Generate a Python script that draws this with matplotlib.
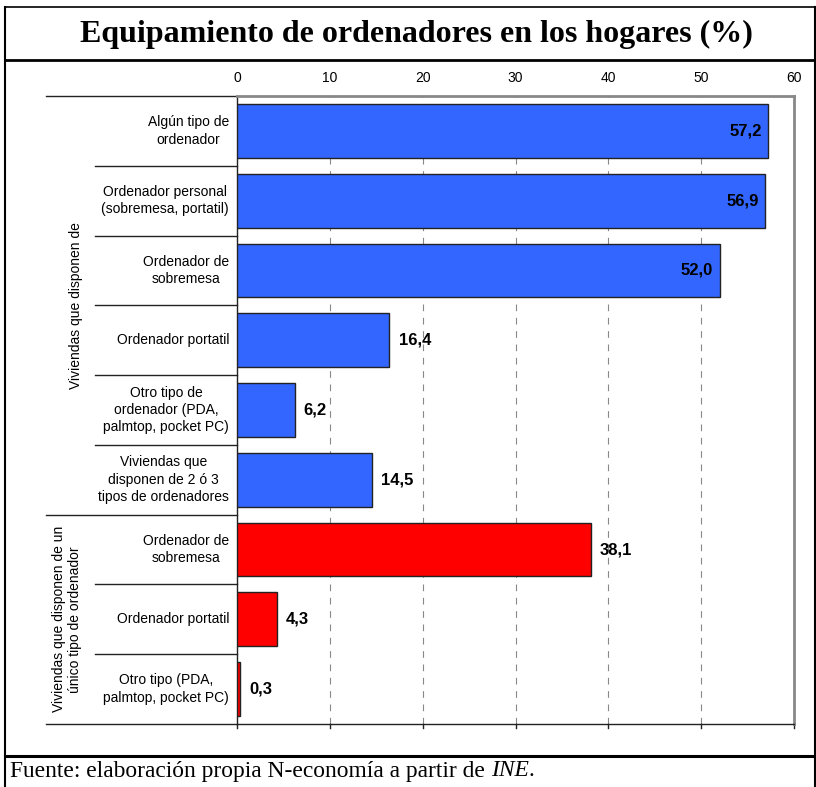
import matplotlib
matplotlib.use("Agg")
import matplotlib.pyplot as plt
from matplotlib.lines import Line2D
import matplotlib.transforms as mtransforms

# data
categorias = [
    "Algún tipo de\nordenador",
    "Ordenador personal\n(sobremesa, portatil)",
    "Ordenador de\nsobremesa",
    "Ordenador portatil",
    "Otro tipo de\nordenador (PDA,\npalmtop, pocket PC)",
    "Viviendas que\ndisponen de 2 ó 3\ntipos de ordenadores",
    "Ordenador de\nsobremesa",
    "Ordenador portatil",
    "Otro tipo (PDA,\npalmtop, pocket PC)",
]
valores = [57.2, 56.9, 52.0, 16.4, 6.2, 14.5, 38.1, 4.3, 0.3]
grupo = [0, 0, 0, 0, 0, 0, 1, 1, 1]
grupos = ["Viviendas que disponen de",
          "Viviendas que disponen de un\núnico tipo de ordenador"]
colores = ["#3366FF", "#FF0000"]
xticks = [0, 10, 20, 30, 40, 50, 60]

W, H = 816, 787
fig = plt.figure(figsize=(W / 100, H / 100), dpi=100)

# plot area in pixels
px_l, px_r, px_t, px_b = 237, 794, 96, 724
ax = fig.add_axes([px_l / W, 1 - px_b / H, (px_r - px_l) / W, (px_b - px_t) / H])

ypos = list(range(len(valores)))
bar_cols = [colores[g] for g in grupo]
ax.barh(ypos, valores, height=0.77, color=bar_cols, edgecolor="#222222", linewidth=1, zorder=3)

ax.set_xlim(0, 60)
ax.set_ylim(len(valores) - 0.5, -0.5)
ax.xaxis.tick_top()
ax.set_xticks(xticks)
ax.set_xticklabels([str(t) for t in xticks], fontsize=10, family="Liberation Sans")
ax.tick_params(axis="x", length=0, pad=8)
ax.set_yticks([])
for x in xticks[1:-1]:
    ax.axvline(x, color="#888888", linestyle=(0, (6, 6)), linewidth=0.8, zorder=1)

for s in ["top", "right"]:
    ax.spines[s].set_color("#888888")
    ax.spines[s].set_linewidth(2)
for s in ["left", "bottom"]:
    ax.spines[s].set_color("#222222")
    ax.spines[s].set_linewidth(1)

# bottom tick marks
for x in xticks:
    ax.plot([x, x], [len(valores) - 0.5, len(valores) - 0.5 + 0.06], color="#222222",
            linewidth=1, clip_on=False)

# value labels
for y, v in zip(ypos, valores):
    txt = f"{v:.1f}".replace(".", ",")
    if v > 45:
        ax.text(v - 0.7, y, txt, ha="right", va="center", fontsize=12,
                fontweight="bold", family="Liberation Sans", zorder=4)
    else:
        ax.text(v + 1.0, y, txt, ha="left", va="center", fontsize=12,
                fontweight="bold", family="Liberation Sans", zorder=4)

# category labels and separators
trans = mtransforms.blended_transform_factory(ax.transAxes, ax.transData)
x_in = (95 - px_l) / (px_r - px_l)
x_out = (46 - px_l) / (px_r - px_l)
x_lab = (229 - px_l) / (px_r - px_l)
for y, lab in zip(ypos, categorias):
    ax.text(x_lab, y, lab, transform=trans, ha="right", va="center",
            multialignment="center", fontsize=10, family="Liberation Sans",
            linespacing=1.3)

for i in range(len(valores) + 1):
    yb = i - 0.5
    if i == 0 or i == len(valores) or grupo[i - 1] != grupo[min(i, len(valores) - 1)]:
        x0 = x_out
    else:
        x0 = x_in
    ax.add_line(Line2D([x0, 0], [yb, yb], transform=trans, color="#222222",
                       linewidth=1, clip_on=False))

# group labels
g0 = [i for i, g in enumerate(grupo) if g == 0]
g1 = [i for i, g in enumerate(grupo) if g == 1]
ax.text((76 - px_l) / (px_r - px_l), (g0[0] + g0[-1]) / 2, grupos[0], transform=trans,
        rotation=90, ha="center", va="center", fontsize=10, family="Liberation Sans")
ax.text((67 - px_l) / (px_r - px_l), (g1[0] + g1[-1]) / 2, grupos[1], transform=trans,
        rotation=90, ha="center", va="center", fontsize=10, family="Liberation Sans",
        multialignment="center", linespacing=1.1)

# frame and title box
def hline(y, lw):
    fig.add_artist(Line2D([5 / W, 1], [1 - y / H, 1 - y / H], color="black", linewidth=lw))

hline(7, 1.2)
hline(60, 2)
hline(756, 2.2)
fig.add_artist(Line2D([5 / W, 5 / W], [1 - 7 / H, 0], color="black", linewidth=1.5))
fig.add_artist(Line2D([815 / W, 815 / W], [1 - 7 / H, 0], color="black", linewidth=1.5))

fig.text(0.5 * (5 + 827) / W, 1 - 34 / H, "Equipamiento de ordenadores en los hogares (%)",
         ha="center", va="center", fontsize=23, fontweight="bold", family="Liberation Serif")

# footer
fs = 16.9
yf = 1 - 771 / H
t1 = fig.text(10 / W, yf, "Fuente: elaboración propia N-economía a partir de ",
              ha="left", va="center", fontsize=fs, family="Liberation Serif")
fig.canvas.draw()
bb = t1.get_window_extent()
t2 = fig.text(bb.x1 / W, yf, "INE", ha="left", va="center", fontsize=fs,
              style="italic", family="Liberation Serif")
fig.canvas.draw()
bb2 = t2.get_window_extent()
fig.text(bb2.x1 / W, yf, ".", ha="left", va="center", fontsize=fs,
         family="Liberation Serif")

fig.savefig("out.png", dpi=100)
